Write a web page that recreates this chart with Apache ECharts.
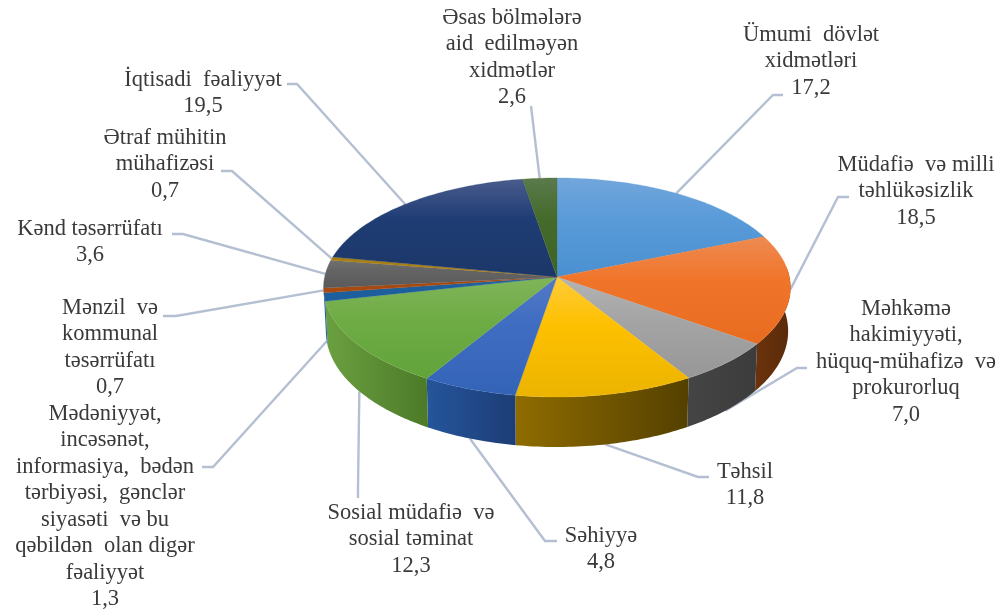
<!DOCTYPE html>
<html><head><meta charset="utf-8">
<style>html,body{margin:0;padding:0;background:#fff}#c{width:1007px;height:614px}</style>
<script src="https://cdn.jsdelivr.net/npm/echarts@6/dist/echarts.min.js"></script>
</head><body><div id="c"></div>
<script>
// Printed category names and printed values
const categories = [
  "Ümumi  dövlət\nxidmətləri","Müdafiə  və milli\ntəhlükəsizlik",
  "Məhkəmə\nhakimiyyəti,\nhüquq-mühafizə  və\nprokurorluq","Təhsil","Səhiyyə",
  "Sosial müdafiə  və\nsosial təminat",
  "Mədəniyyət,\nincəsənət,\ninformasiya,  bədən\ntərbiyəsi,  gənclər\nsiyasəti  və bu\nqəbildən  olan digər\nfəaliyyət",
  "Mənzil  və\nkommunal\ntəsərrüfatı","Kənd təsərrüfatı","Ətraf mühitin\nmühafizəsi","İqtisadi  fəaliyyət",
  "Əsas bölmələrə\naid  edilməyən\nxidmətlər"];
const values = [17.2,18.5,7.0,11.8,4.8,12.3,1.3,0.7,3.6,0.7,19.5,2.6];
// Slice widths as measured on the drawing (the picture's slices differ slightly from the printed numbers)
const drawnShares = [18.7,16.2,6.4,11.3,6.0,12.9,1.2,0.7,4.1,0.5,19.4,2.6];
// Styling
const topColors = [
  ["#72a6db","#5a9bd9","#4a90d0"],["#ee8b52","#f0752a","#e86c20"],["#b4b4b4","#a5a5a5","#979797"],
  ["#ffcb3a","#fec000","#ebb400"],["#5479c6","#3f6dc2","#3363b6"],["#80b55a","#6fac46","#62a33a"],
  ["#2a6aa8","#1d5f9c","#1d5f9c"],["#a84a10","#a84a10","#a84a10"],["#707070","#636363","#5a5a5a"],
  ["#a87f15","#a87f15","#a87f15"],["#4a5c8c","#1f3d75","#1c3768"],["#5a7a4c","#456b2c","#3e6424"]];
const wallColors = [
  ["#2c5a86","#2c5a86"],["#6a330c","#5a2b0a"],["#454545","#3c3c3c"],["#8f6c00","#544000"],
  ["#25559c","#1d3d75"],["#6ba040","#4c7a28"],["#245f9c","#245f9c"],["#7a3208","#7a3208"],
  ["#444","#444"],["#705508","#705508"],["#14264a","#14264a"],["#2c4418","#2c4418"]];
const labelCenters = [[811,35],[916,165],[906,309],[745,472],[601,536],[411,513],[105,414],[110,308],[90,229],[165,138],[203,80],[512,18]];
const leaderElbows = [
  [[783,95],[773,95]],[[849,197],[838,197]],[[807,368],[797,368]],[[709,477],[698,477]],
  [[557,541],[545,541]],[[358,498],[358,488]],[[202,467],[213,467]],[[163,316],[176,316]],
  [[172,234],[183,234]],[[221,171],[232,171]],[[287,84],[297,84]],[[531,106],[531,106]]];
const apex = {x:557,y:277}, radiusX = 232.4, radiusY = 108.5, persp = 0.0959;
const lineH = 26.5, fontPx = 22.5;

const total = drawnShares.reduce((a,b)=>a+b,0);
const starts = []; drawnShares.reduce((s,v,i)=>(starts[i]=s,s+v),0);
const ang = s => s/total*2*Math.PI;
function topPt(t){const u=Math.sin(t),v=-Math.cos(t),w=1-persp*v;
  return {x:apex.x+radiusX*u/w,y:apex.y+radiusY*v/w,v};}
function botPt(t){const p=topPt(t);return {x:apex.x+(p.x-apex.x)*0.99,y:p.y+43+7*p.v,v:p.v};}
function arc(fn,a,b){const n=Math.max(2,Math.ceil((b-a)/(Math.PI/180)));const o=[];
  for(let i=0;i<=n;i++){const p=fn(a+(b-a)*i/n);o.push([p.x,p.y]);}return o;}
const grad=(x2,y2,cs)=>new echarts.graphic.LinearGradient(0,0,x2,y2,cs);

function renderItem(params,api){
  const i=params.dataIndex, share=api.value(1), val=api.value(0);
  const a=ang(starts[i]), b=ang(starts[i]+share), mid=(a+b)/2;
  const kids=[];
  const m=topPt(mid); const anchor = m.v>=0.15 ? botPt(mid) : m;
  const path=[...leaderElbows[i],[anchor.x,anchor.y]];
  kids.push({type:'polyline',z2:0,shape:{points:path},style:{stroke:'#b4c0d2',lineWidth:2.4,fill:null}});
  const fa=Math.max(a,Math.PI*0.47), fb=Math.min(b,Math.PI*1.455);
  if(fb>fa){
    const pts=arc(topPt,fa,fb).concat(arc(botPt,fa,fb).reverse());
    const c=wallColors[i];
    kids.push({type:'polygon',z2:1,shape:{points:pts},style:{fill:grad(1,0,[{offset:0,color:c[0]},{offset:1,color:c[1]}])}});
  }
  const pts=[[apex.x,apex.y]].concat(arc(topPt,a,b));
  const t=topColors[i];
  kids.push({type:'polygon',z2:2,shape:{points:pts},style:{fill:grad(0,1,[{offset:0,color:t[0]},{offset:0.4,color:t[1]},{offset:1,color:t[2]}]),stroke:t[1],lineWidth:0.3}});
  const txt=categories[i]+"\n"+val.toFixed(1).replace('.',',');
  kids.push({type:'text',z2:3,x:labelCenters[i][0],y:labelCenters[i][1]-lineH/2,
    style:{text:txt,fill:'#3a3a3a',font:fontPx+'px "Liberation Serif"',align:'center',verticalAlign:'top',lineHeight:lineH}});
  return {type:'group',children:kids};
}
const chart=echarts.init(document.getElementById('c'),null,{renderer:'canvas'});
chart.setOption({animation:false,backgroundColor:'#fff',
  series:[{type:'custom',coordinateSystem:'none',renderItem,silent:true,
    dimensions:['value','drawnShare'],
    data:values.map((v,i)=>({name:categories[i],value:[v,drawnShares[i]]}))}]});
</script></body></html>
